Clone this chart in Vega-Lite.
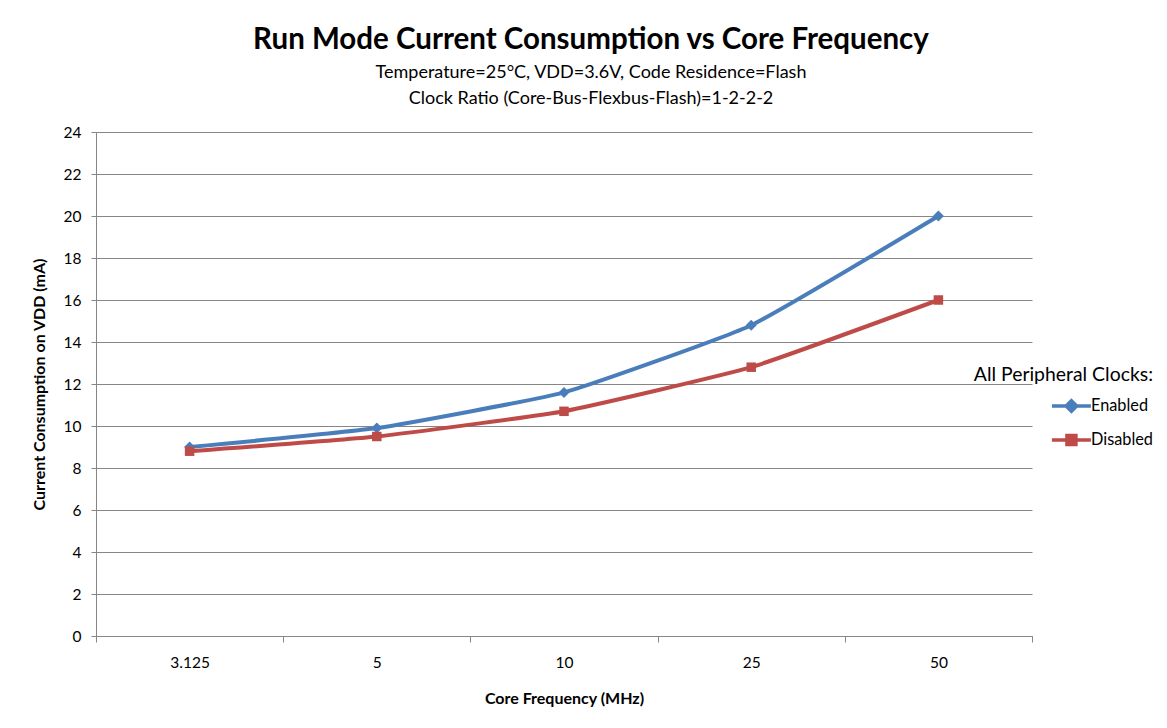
{
  "$schema": "https://vega.github.io/schema/vega-lite/v6.json",
  "autosize": "none",
  "width": 936,
  "height": 504,
  "padding": {"left": 96, "top": 132, "right": 135, "bottom": 92},
  "background": "white",
  "title": {
    "text": "Run Mode Current Consumption vs Core Frequency",
    "subtitle": ["Temperature=25°C, VDD=3.6V, Code Residence=Flash", "Clock Ratio (Core-Bus-Flexbus-Flash)=1-2-2-2"],
    "anchor": "middle",
    "frame": "group",
    "dx": 27,
    "offset": 16,
    "font": "Lato",
    "fontSize": 29.5,
    "fontWeight": "bold",
    "color": "black",
    "subtitleFont": "Lato",
    "subtitleFontSize": 18,
    "subtitleColor": "black",
    "subtitleLineHeight": 26,
    "subtitlePadding": 9
  },
  "data": {
    "values": [
      {"freq": "3.125", "series": "Enabled", "ma": 9.0},
      {"freq": "5", "series": "Enabled", "ma": 9.9},
      {"freq": "10", "series": "Enabled", "ma": 11.6},
      {"freq": "25", "series": "Enabled", "ma": 14.8},
      {"freq": "50", "series": "Enabled", "ma": 20.0},
      {"freq": "3.125", "series": "Disabled", "ma": 8.8},
      {"freq": "5", "series": "Disabled", "ma": 9.5},
      {"freq": "10", "series": "Disabled", "ma": 10.7},
      {"freq": "25", "series": "Disabled", "ma": 12.8},
      {"freq": "50", "series": "Disabled", "ma": 16.0}
    ]
  },
  "encoding": {
    "x": {
      "field": "freq", "type": "ordinal", "sort": ["3.125", "5", "10", "25", "50"],
      "scale": {"type": "band", "paddingInner": 0, "paddingOuter": 0},
      "title": "Core Frequency (MHz)",
      "axis": {
        "labelAngle": 0, "tickBand": "extent", "tickSize": 6, "tickColor": "#868686",
        "domainColor": "#868686", "labelPadding": 13, "labelFont": "Lato", "labelFontSize": 15.5,
        "labelColor": "black", "titleFont": "Lato", "titleFontSize": 16, "titleFontWeight": "bold",
        "titleColor": "black", "titlePadding": 20, "grid": false
      }
    },
    "y": {
      "field": "ma", "type": "quantitative",
      "scale": {"domain": [0, 24], "nice": false},
      "title": "Current Consumption on VDD (mA)",
      "axis": {
        "values": [0, 2, 4, 6, 8, 10, 12, 14, 16, 18, 20, 22, 24],
        "tickSize": 5, "tickColor": "#868686", "domainColor": "#868686",
        "gridColor": "#868686", "gridWidth": 1, "labelPadding": 10,
        "labelFont": "Lato", "labelFontSize": 15.5, "labelColor": "black",
        "titleFont": "Lato", "titleFontSize": 16, "titleFontWeight": "bold",
        "titleColor": "black", "titlePadding": 16
      }
    }
  },
  "layer": [
    {
      "mark": {"type": "line", "interpolate": "cardinal", "tension": 0.6, "strokeWidth": 4},
      "encoding": {
        "color": {"field": "series", "type": "nominal", "scale": {"domain": ["Enabled", "Disabled"], "range": ["#4a7ebb", "#be4b48"]}, "legend": null}
      }
    },
    {
      "transform": [{"filter": "datum.series === 'Enabled'"}],
      "mark": {"type": "point", "filled": true, "opacity": 1, "size": 120, "shape": "diamond"},
      "encoding": {
        "color": {"field": "series", "type": "nominal", "scale": {"domain": ["Enabled", "Disabled"], "range": ["#4a7ebb", "#be4b48"]}, "legend": null}
      }
    },
    {
      "transform": [{"filter": "datum.series === 'Disabled'"}],
      "mark": {"type": "point", "filled": true, "opacity": 1, "size": 90, "shape": "square"},
      "encoding": {
        "color": {"field": "series", "type": "nominal", "scale": {"domain": ["Enabled", "Disabled"], "range": ["#4a7ebb", "#be4b48"]}, "legend": null}
      }
    },
    {
      "mark": {"type": "point", "opacity": 0, "size": 1520, "strokeWidth": 3.5},
      "encoding": {
        "shape": {
          "field": "series", "type": "nominal",
          "scale": {"domain": ["Enabled", "Disabled"], "range": ["M-0.44,0H1.56M0.56,-0.27L0.83,0L0.56,0.27L0.29,0Z", "M-0.44,0H1.56M0.33,-0.23H0.79V0.23H0.33Z"]},
          "legend": {
            "title": "All Peripheral Clocks:",
            "orient": "none",
            "legendX": 878,
            "legendY": 234,
            "titleAnchor": "end",
            "titleFont": "Lato",
            "titleFontSize": 19.4,
            "titleFontWeight": "normal",
            "titleColor": "black",
            "titlePadding": -1,
            "labelFont": "Lato",
            "labelFontSize": 16.3,
            "labelColor": "black",
            "labelOffset": 9,
            "symbolSize": 1520,
            "symbolOpacity": 1,
            "symbolStrokeWidth": 3.5,
            "rowPadding": -9
          }
        },
        "fill": {
          "field": "series", "type": "nominal",
          "scale": {"domain": ["Enabled", "Disabled"], "range": ["#4a7ebb", "#be4b48"]},
          "legend": {"title": "All Peripheral Clocks:"}
        },
        "stroke": {
          "field": "series", "type": "nominal",
          "scale": {"domain": ["Enabled", "Disabled"], "range": ["#4a7ebb", "#be4b48"]},
          "legend": {"title": "All Peripheral Clocks:"}
        }
      }
    }
  ],
  "resolve": {"scale": {"shape": "independent", "fill": "independent", "stroke": "independent"}},
  "config": {
    "view": {"stroke": null},
    "axis": {"gridColor": "#868686"}
  }
}
